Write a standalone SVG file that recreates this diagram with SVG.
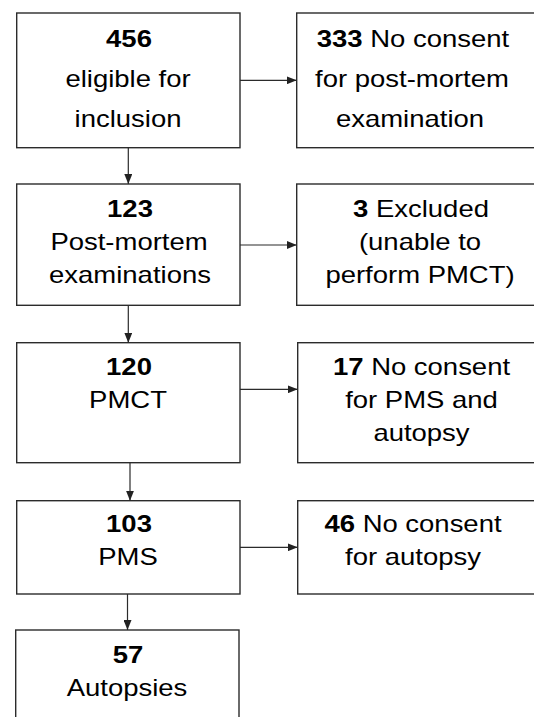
<svg xmlns="http://www.w3.org/2000/svg" width="534" height="717" viewBox="0 0 534 717">
<style>
  .box { fill: #ffffff; stroke: #2b2b2b; stroke-width: 1.4; }
  .t { font-family: "Liberation Sans", Arial, sans-serif; font-size: 24px; fill: #000000; text-anchor: middle; }
  .b { font-weight: bold; }
  .conn line { stroke: #2b2b2b; stroke-width: 1.2; }
</style>
<defs>
  <marker id="ah" viewBox="0 0 10 8" refX="10" refY="4" markerWidth="10" markerHeight="8" markerUnits="userSpaceOnUse" orient="auto">
    <path d="M0,0 L10,4 L0,8 Z" fill="#222222"/>
  </marker>
</defs>
<rect width="534" height="717" fill="#ffffff"/>

<g id="n456">
  <rect class="box" x="16.7" y="13" width="223.3" height="134.7"/>
  <text class="t b" transform="translate(129,47.3) scale(1.145,1)">456</text>
  <text class="t" transform="translate(128,87) scale(1.145,1)">eligible for</text>
  <text class="t" transform="translate(128,127) scale(1.145,1)">inclusion</text>
</g>
<g id="n333">
  <rect class="box" x="296.7" y="13" width="250" height="134.7"/>
  <text class="t" transform="translate(413,47.3) scale(1.145,1)"><tspan class="b">333</tspan> No consent</text>
  <text class="t" transform="translate(412,87) scale(1.145,1)">for post-mortem</text>
  <text class="t" transform="translate(410,127) scale(1.145,1)">examination</text>
</g>
<g id="n123">
  <rect class="box" x="16.7" y="184" width="223.3" height="121.3"/>
  <text class="t b" transform="translate(130,217.3) scale(1.145,1)">123</text>
  <text class="t" transform="translate(129,250) scale(1.145,1)">Post-mortem</text>
  <text class="t" transform="translate(130,283.3) scale(1.145,1)">examinations</text>
</g>
<g id="n3">
  <rect class="box" x="296.7" y="184" width="250" height="121.3"/>
  <text class="t" transform="translate(421,217.3) scale(1.145,1)"><tspan class="b">3</tspan> Excluded</text>
  <text class="t" transform="translate(420,250) scale(1.145,1)">(unable to</text>
  <text class="t" transform="translate(420,283.3) scale(1.145,1)">perform PMCT)</text>
</g>
<g id="n120">
  <rect class="box" x="16.7" y="342.7" width="223.3" height="120"/>
  <text class="t b" transform="translate(129,375.3) scale(1.145,1)">120</text>
  <text class="t" transform="translate(128,408) scale(1.145,1)">PMCT</text>
</g>
<g id="n17">
  <rect class="box" x="297.7" y="342.7" width="250" height="120"/>
  <text class="t" transform="translate(421.5,375.3) scale(1.145,1)"><tspan class="b">17</tspan> No consent</text>
  <text class="t" transform="translate(421.5,408) scale(1.145,1)">for PMS and</text>
  <text class="t" transform="translate(421.5,440.5) scale(1.145,1)">autopsy</text>
</g>
<g id="n103">
  <rect class="box" x="16.7" y="500.7" width="223.3" height="93.3"/>
  <text class="t b" transform="translate(129,532.3) scale(1.145,1)">103</text>
  <text class="t" transform="translate(128,565) scale(1.145,1)">PMS</text>
</g>
<g id="n46">
  <rect class="box" x="297.7" y="500.7" width="250" height="93.3"/>
  <text class="t" transform="translate(413,532.3) scale(1.145,1)"><tspan class="b">46</tspan> No consent</text>
  <text class="t" transform="translate(413,565) scale(1.145,1)">for autopsy</text>
</g>
<g id="n57">
  <rect class="box" x="15.7" y="630" width="223.3" height="100"/>
  <text class="t b" transform="translate(128,663.3) scale(1.145,1)">57</text>
  <text class="t" transform="translate(127,695.5) scale(1.145,1)">Autopsies</text>
</g>

<g id="connectors" class="conn">
  <line x1="240" y1="80.3" x2="296.7" y2="80.3" marker-end="url(#ah)"/>
  <line x1="240" y1="245" x2="296.7" y2="245" marker-end="url(#ah)"/>
  <line x1="240" y1="389.3" x2="297.7" y2="389.3" marker-end="url(#ah)"/>
  <line x1="240" y1="547.3" x2="297.7" y2="547.3" marker-end="url(#ah)"/>
  <line x1="128.3" y1="147.7" x2="128.3" y2="184" marker-end="url(#ah)"/>
  <line x1="128.3" y1="305.3" x2="128.3" y2="342.7" marker-end="url(#ah)"/>
  <line x1="130" y1="462.7" x2="130" y2="500.7" marker-end="url(#ah)"/>
  <line x1="127.5" y1="594" x2="127.5" y2="630" marker-end="url(#ah)"/>
</g>
</svg>
